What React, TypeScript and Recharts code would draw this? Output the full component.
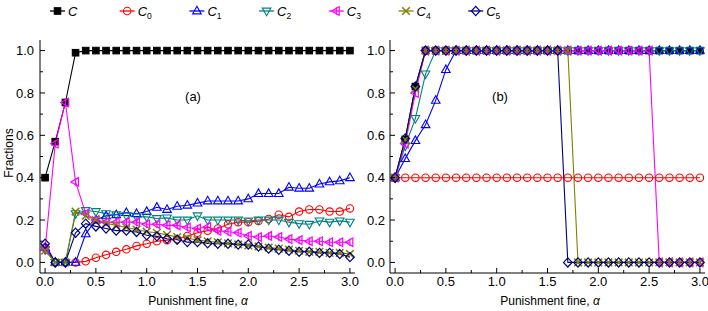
import { LineChart, Line, XAxis, YAxis } from "recharts";

// punishment fine alpha
const alpha = [
  0, 0.1, 0.2, 0.3, 0.4, 0.5, 0.6, 0.7, 0.8, 0.9, 1.0, 1.1, 1.2, 1.3, 1.4, 1.5,
  1.6, 1.7, 1.8, 1.9, 2.0, 2.1, 2.2, 2.3, 2.4, 2.5, 2.6, 2.7, 2.8, 2.9, 3.0,
];

// panel (a)
const cA = [0.4, 0.57, 0.755, 0.99, 1, 1, 1, 1, 1, 1, 1, 1, 1, 1, 1, 1, 1, 1, 1, 1, 1, 1, 1, 1, 1, 1, 1, 1, 1, 1, 1];
const c0A = [0.07, 0, 0, 0, 0.005, 0.022, 0.036, 0.05, 0.062, 0.078, 0.088, 0.1, 0.105, 0.11, 0.125, 0.14, 0.15, 0.16, 0.18, 0.19, 0.19, 0.195, 0.205, 0.225, 0.215, 0.24, 0.25, 0.25, 0.24, 0.24, 0.255];
const c1A = [0.07, 0, 0, 0, 0.135, 0.2, 0.22, 0.225, 0.235, 0.23, 0.24, 0.26, 0.25, 0.265, 0.27, 0.28, 0.29, 0.29, 0.29, 0.29, 0.3, 0.325, 0.325, 0.325, 0.355, 0.35, 0.35, 0.37, 0.38, 0.385, 0.4];
const c2A = [0.06, 0, 0, 0.23, 0.245, 0.24, 0.23, 0.225, 0.22, 0.215, 0.215, 0.207, 0.21, 0.2, 0.2, 0.22, 0.2, 0.2, 0.2, 0.2, 0.196, 0.2, 0.2, 0.2, 0.19, 0.183, 0.18, 0.196, 0.19, 0.196, 0.19];
const c3A = [0.06, 0.56, 0.755, 0.38, 0.23, 0.2, 0.19, 0.19, 0.19, 0.19, 0.18, 0.18, 0.175, 0.175, 0.165, 0.16, 0.167, 0.15, 0.145, 0.14, 0.125, 0.12, 0.125, 0.12, 0.11, 0.105, 0.1, 0.1, 0.095, 0.095, 0.095];
const c4A = [0.055, 0, 0, 0.24, 0.22, 0.2, 0.185, 0.175, 0.165, 0.155, 0.145, 0.14, 0.13, 0.12, 0.115, 0.105, 0.1, 0.095, 0.09, 0.085, 0.08, 0.075, 0.07, 0.065, 0.06, 0.055, 0.05, 0.05, 0.045, 0.045, 0.04];
const c5A = [0.088, 0, 0, 0.14, 0.183, 0.17, 0.16, 0.15, 0.15, 0.144, 0.128, 0.123, 0.112, 0.107, 0.096, 0.096, 0.09, 0.088, 0.088, 0.084, 0.085, 0.075, 0.065, 0.06, 0.055, 0.05, 0.05, 0.045, 0.045, 0.04, 0.025];

// panel (b)
const cB = [0.4, 0.58, 0.83, 1, 1, 1, 1, 1, 1, 1, 1, 1, 1, 1, 1, 1, 1, 1, 1, 1, 1, 1, 1, 1, 1, 1, 1, 1, 1, 1, 1];
const c0B = [0.4, 0.4, 0.4, 0.4, 0.4, 0.4, 0.4, 0.4, 0.4, 0.4, 0.4, 0.4, 0.4, 0.4, 0.4, 0.4, 0.4, 0.4, 0.4, 0.4, 0.4, 0.4, 0.4, 0.4, 0.4, 0.4, 0.4, 0.4, 0.4, 0.4, 0.4];
const c1B = [0.4, 0.49, 0.575, 0.65, 0.765, 0.91, 1, 1, 1, 1, 1, 1, 1, 1, 1, 1, 1, 1, 1, 1, 1, 1, 1, 1, 1, 1, 1, 1, 1, 1, 1];
const c2B = [0.4, 0.55, 0.68, 0.89, 1, 1, 1, 1, 1, 1, 1, 1, 1, 1, 1, 1, 1, 1, 1, 1, 1, 1, 1, 1, 1, 1, 1, 1, 1, 1, 1];
const c3B = [0.4, 0.56, 0.8, 1, 1, 1, 1, 1, 1, 1, 1, 1, 1, 1, 1, 1, 1, 1, 1, 1, 1, 1, 1, 1, 1, 1, 0, 0, 0, 0, 0];
const c4B = [0.4, 0.58, 0.82, 1, 1, 1, 1, 1, 1, 1, 1, 1, 1, 1, 1, 1, 1, 1, 0, 0, 0, 0, 0, 0, 0, 0, 0, 0, 0, 0, 0];
const c5B = [0.4, 0.585, 0.83, 1, 1, 1, 1, 1, 1, 1, 1, 1, 1, 1, 1, 1, 1, 0, 0, 0, 0, 0, 0, 0, 0, 0, 0, 0, 0, 0, 0];

const xMajor = [0, 0.5, 1, 1.5, 2, 2.5, 3];
const xMinor = [0.25, 0.75, 1.25, 1.75, 2.25, 2.75];
const yMajor = [0, 0.2, 0.4, 0.6, 0.8, 1];
const yMinor = [0.1, 0.3, 0.5, 0.7, 0.9];

const xTicks = [...xMajor, ...xMinor].sort((p, q) => p - q);
const yTicks = [...yMajor, ...yMinor].sort((p, q) => p - q);

const FONT = "'Liberation Sans', Arial, sans-serif";

type Shape = "square" | "circle" | "up" | "down" | "left" | "x" | "diamond";

const series: { key: string; sub: string; color: string; shape: Shape; a: number[]; b: number[] }[] = [
  { key: "c", sub: "", color: "#000000", shape: "square", a: cA, b: cB },
  { key: "c0", sub: "0", color: "#ff0000", shape: "circle", a: c0A, b: c0B },
  { key: "c1", sub: "1", color: "#0000ff", shape: "up", a: c1A, b: c1B },
  { key: "c2", sub: "2", color: "#008080", shape: "down", a: c2A, b: c2B },
  { key: "c3", sub: "3", color: "#ff00ff", shape: "left", a: c3A, b: c3B },
  { key: "c4", sub: "4", color: "#808000", shape: "x", a: c4A, b: c4B },
  { key: "c5", sub: "5", color: "#000080", shape: "diamond", a: c5A, b: c5B },
];

const dataA = alpha.map((x, i) => {
  const row: Record<string, number> = { x };
  series.forEach((s) => (row[s.key] = s.a[i]));
  return row;
});
const dataB = alpha.map((x, i) => {
  const row: Record<string, number> = { x };
  series.forEach((s) => (row[s.key] = s.b[i]));
  return row;
});

function Marker({ shape, x, y, color }: { shape: Shape; x: number; y: number; color: string }) {
  switch (shape) {
    case "square":
      return <rect x={x - 3.3} y={y - 3.3} width={6.6} height={6.6} fill={color} stroke={color} />;
    case "circle":
      return <circle cx={x} cy={y} r={3.7} fill="none" stroke={color} strokeWidth={1.1} />;
    case "up":
      return <polygon points={`${x},${y - 4.7} ${x + 4.3},${y + 2.9} ${x - 4.3},${y + 2.9}`} fill="none" stroke={color} strokeWidth={1.1} />;
    case "down":
      return <polygon points={`${x},${y + 4.7} ${x + 4.3},${y - 2.9} ${x - 4.3},${y - 2.9}`} fill="none" stroke={color} strokeWidth={1.1} />;
    case "left":
      return (
        <g stroke={color} strokeWidth={1.2} fill="none">
          <polygon points={`${x - 4.7},${y} ${x + 2.9},${y - 4.3} ${x + 2.9},${y + 4.3}`} />
          <line x1={x} y1={y - 3.8} x2={x} y2={y + 3.8} />
        </g>
      );
    case "x":
      return (
        <g stroke={color} strokeWidth={1.5}>
          <line x1={x - 3.8} y1={y - 3.8} x2={x + 3.8} y2={y + 3.8} />
          <line x1={x - 3.8} y1={y + 3.8} x2={x + 3.8} y2={y - 3.8} />
        </g>
      );
    default:
      return <polygon points={`${x},${y - 4.6} ${x + 4.3},${y} ${x},${y + 4.6} ${x - 4.3},${y}`} fill="none" stroke={color} strokeWidth={1.2} />;
  }
}

const isMajor = (v: number, majors: number[]) => majors.some((m) => Math.abs(m - v) < 1e-6);

function makeTick(side: "bottom" | "top" | "left" | "right", majors: number[], margin: number) {
  return (p: any) => {
    const v: number = p.payload.value;
    const major = isMajor(v, majors);
    const len = major ? 5 : 3;
    if (side === "bottom") {
      const y0 = p.y - margin;
      return (
        <g>
          <line x1={p.x} x2={p.x} y1={y0} y2={y0 - len} stroke="#000" />
          {major && (
            <text x={p.x} y={p.y} dy="0.71em" textAnchor="middle" fontSize={13} fontFamily={FONT} fill="#000">
              {v.toFixed(1)}
            </text>
          )}
        </g>
      );
    }
    if (side === "top") {
      return <line x1={p.x} x2={p.x} y1={p.y} y2={p.y + len} stroke="#000" />;
    }
    if (side === "left") {
      const x0 = p.x + margin;
      return (
        <g>
          <line x1={x0} x2={x0 + len} y1={p.y} y2={p.y} stroke="#000" />
          {major && (
            <text x={p.x} y={p.y} dy="0.36em" textAnchor="end" fontSize={13} fontFamily={FONT} fill="#000">
              {v.toFixed(1)}
            </text>
          )}
        </g>
      );
    }
    return <line x1={p.x} x2={p.x - len} y1={p.y} y2={p.y} stroke="#000" />;
  };
}

function Panel({ data, yWidth, marginLeft, marginRight, yMargin }: { data: Record<string, number>[]; yWidth: number; marginLeft: number; marginRight: number; yMargin: number }) {
  return (
    <LineChart width={marginLeft + yWidth + 315 + marginRight} height={311} data={data} margin={{ top: 40, right: marginRight, bottom: 0, left: marginLeft }}>
      <XAxis dataKey="x" type="number" domain={[-0.05, 3.05]} ticks={xTicks} interval={0} allowDataOverflow height={38} tickSize={0} tickMargin={4} tickLine={false} stroke="#000" tick={makeTick("bottom", xMajor, 4)} />
      <XAxis xAxisId="top" orientation="top" dataKey="x" type="number" domain={[-0.05, 3.05]} ticks={xTicks} interval={0} allowDataOverflow height={0} tickSize={0} tickMargin={0} tickLine={false} stroke="#000" tick={makeTick("top", xMajor, 0)} />
      <YAxis type="number" domain={[-0.05, 1.05]} ticks={yTicks} interval={0} allowDataOverflow width={yWidth} tickSize={0} tickMargin={yMargin} tickLine={false} stroke="#000" tick={makeTick("left", yMajor, yMargin)} />
      <YAxis yAxisId="right" orientation="right" type="number" domain={[-0.05, 1.05]} ticks={yTicks} interval={0} allowDataOverflow width={0} tickSize={0} tickMargin={0} tickLine={false} stroke="#000" tick={makeTick("right", yMajor, 0)} />
      {series.map((s) => (
        <Line
          key={s.key}
          dataKey={s.key}
          type="linear"
          stroke={s.color}
          strokeWidth={1.1}
          isAnimationActive={false}
          dot={(p: any) => (
            <g key={`${s.key}-${p.index}`}>
              <Marker shape={s.shape} x={p.cx} y={p.cy} color={s.color} />
            </g>
          )}
          activeDot={false}
        />
      ))}
    </LineChart>
  );
}

function Legend() {
  return (
    <svg width={708} height={24} style={{ position: "absolute", left: 0, top: 0 }}>
      {series.map((s, i) => {
        const x0 = 50 + i * 69.7;
        return (
          <g key={s.key}>
            <line x1={x0} x2={x0 + 15} y1={11} y2={11} stroke={s.color} strokeWidth={1.3} />
            <Marker shape={s.shape} x={x0 + 7.5} y={11} color={s.color} />
            <text x={x0 + 18} y={15.5} fontSize={13} fontFamily={FONT} fill="#000">
              <tspan fontStyle="italic">C</tspan>
              {s.sub && (
                <tspan fontSize={8.5} dy={3}>
                  {s.sub}
                </tspan>
              )}
            </text>
          </g>
        );
      })}
    </svg>
  );
}

const textStyle: React.CSSProperties = { position: "absolute", fontFamily: FONT, fontSize: 12, color: "#000", whiteSpace: "nowrap", lineHeight: "14px" };

export default function App() {
  return (
    <div style={{ position: "absolute", left: 0, top: 0, width: 708, height: 311, background: "#fff", overflow: "hidden" }}>
      <div style={{ position: "absolute", left: 0, top: 0 }}>
        <Panel data={dataA} yWidth={30} marginLeft={10} marginRight={5} yMargin={6} />
      </div>
      <div style={{ position: "absolute", left: 360, top: 0 }}>
        <Panel data={dataB} yWidth={25} marginLeft={5} marginRight={3} yMargin={5} />
      </div>
      <Legend />
      <div style={{ ...textStyle, left: 9, top: 153, transform: "translate(-50%, -50%) rotate(-90deg)" }}>Fractions</div>
      <div style={{ ...textStyle, left: 193, top: 97, fontSize: 13, transform: "translate(-50%, -50%)" }}>(a)</div>
      <div style={{ ...textStyle, left: 500, top: 97, fontSize: 13, transform: "translate(-50%, -50%)" }}>(b)</div>
      <div style={{ ...textStyle, left: 198, top: 301, transform: "translate(-50%, -50%)" }}>
        Punishment fine, <i>α</i>
      </div>
      <div style={{ ...textStyle, left: 550, top: 301, transform: "translate(-50%, -50%)" }}>
        Punishment fine, <i>α</i>
      </div>
    </div>
  );
}
